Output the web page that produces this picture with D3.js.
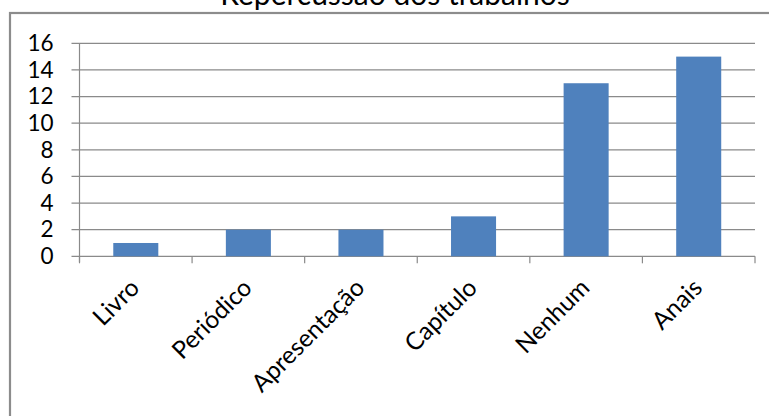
<!DOCTYPE html>
<html>
<head>
<meta charset="utf-8">
<script src="https://cdn.jsdelivr.net/npm/d3@7"></script>
<style>
  html, body { margin: 0; padding: 0; background: #fff; overflow: hidden; }
  svg { display: block; font-family: Lato, "Open Sans", sans-serif; }
</style>
</head>
<body>
<svg id="chart" width="769" height="416"></svg>
<script>
// Publication outlets and how many works appeared in each
const categories = ["Livro", "Periódico", "Apresentação", "Capítulo", "Nenhum", "Anais"];
const counts = [1, 2, 2, 3, 13, 15];
const yTicks = [0, 2, 4, 6, 8, 10, 12, 14, 16];
const title = "Repercussão dos trabalhos";

const svg = d3.select("#chart");
const W = 769, H = 416;
const margin = { top: 43.3, right: 14, bottom: 160, left: 79.5 };
const plotW = W - margin.left - margin.right;
const plotH = 256.3 - margin.top;

const gridColor = "#8a8a8a";
const barColor = "#4f81bd";

// Chart frame (runs past the right and bottom edges)
svg.append("rect")
  .attr("x", 10).attr("y", 13)
  .attr("width", 800).attr("height", 440)
  .attr("fill", "none")
  .attr("stroke", "#8c8c8c")
  .attr("stroke-width", 2.2);

svg.append("text")
  .attr("x", 395).attr("y", 5)
  .attr("text-anchor", "middle")
  .attr("font-size", 30)
  .attr("fill", "#000")
  .text(title);

const g = svg.append("g").attr("transform", `translate(${margin.left},${margin.top})`);

const x = d3.scaleBand().domain(categories).range([0, plotW])
  .paddingInner(0.6).paddingOuter(0.3);
const y = d3.scaleLinear().domain([0, 16]).range([plotH, 0]);

// Horizontal gridlines
g.append("g").selectAll("line").data(yTicks).join("line")
  .attr("x1", -8).attr("x2", plotW)
  .attr("y1", d => y(d)).attr("y2", d => y(d))
  .attr("stroke", gridColor).attr("stroke-width", 1.2);

// Y axis
const yAxis = g.append("g")
  .call(d3.axisLeft(y).tickValues(yTicks).tickSize(8).tickPadding(18));
yAxis.select(".domain").remove();
yAxis.selectAll(".tick line").remove();
yAxis.selectAll("text").attr("font-size", 22.5).attr("fill", "#000")
  .attr("font-family", "Lato, sans-serif");
g.append("line")
  .attr("x1", 0).attr("x2", 0).attr("y1", y(16)).attr("y2", plotH + 6)
  .attr("stroke", gridColor).attr("stroke-width", 1.2);

// Bars
g.append("g").selectAll("rect").data(categories).join("rect")
  .attr("x", d => x(d))
  .attr("width", x.bandwidth())
  .attr("y", (d, i) => y(counts[i]))
  .attr("height", (d, i) => y(0) - y(counts[i]))
  .attr("fill", barColor);

// Category boundary ticks along the baseline
const step = x.step();
const bounds = categories.map(d => x(d) + x.bandwidth() / 2 - step / 2)
  .concat([x(categories[categories.length - 1]) + x.bandwidth() / 2 + step / 2]);
g.append("g").selectAll("line").data(bounds).join("line")
  .attr("x1", d => d).attr("x2", d => d)
  .attr("y1", plotH).attr("y2", plotH + 7)
  .attr("stroke", gridColor).attr("stroke-width", 1.2);

// Rotated category labels
g.append("g").selectAll("text").data(categories).join("text")
  .attr("transform", d => `translate(${x(d) + x.bandwidth() / 2 + 5},${plotH + 33}) rotate(-45)`)
  .attr("text-anchor", "end")
  .attr("font-size", 24.5)
  .attr("fill", "#000")
  .text(d => d);
</script>
</body>
</html>
